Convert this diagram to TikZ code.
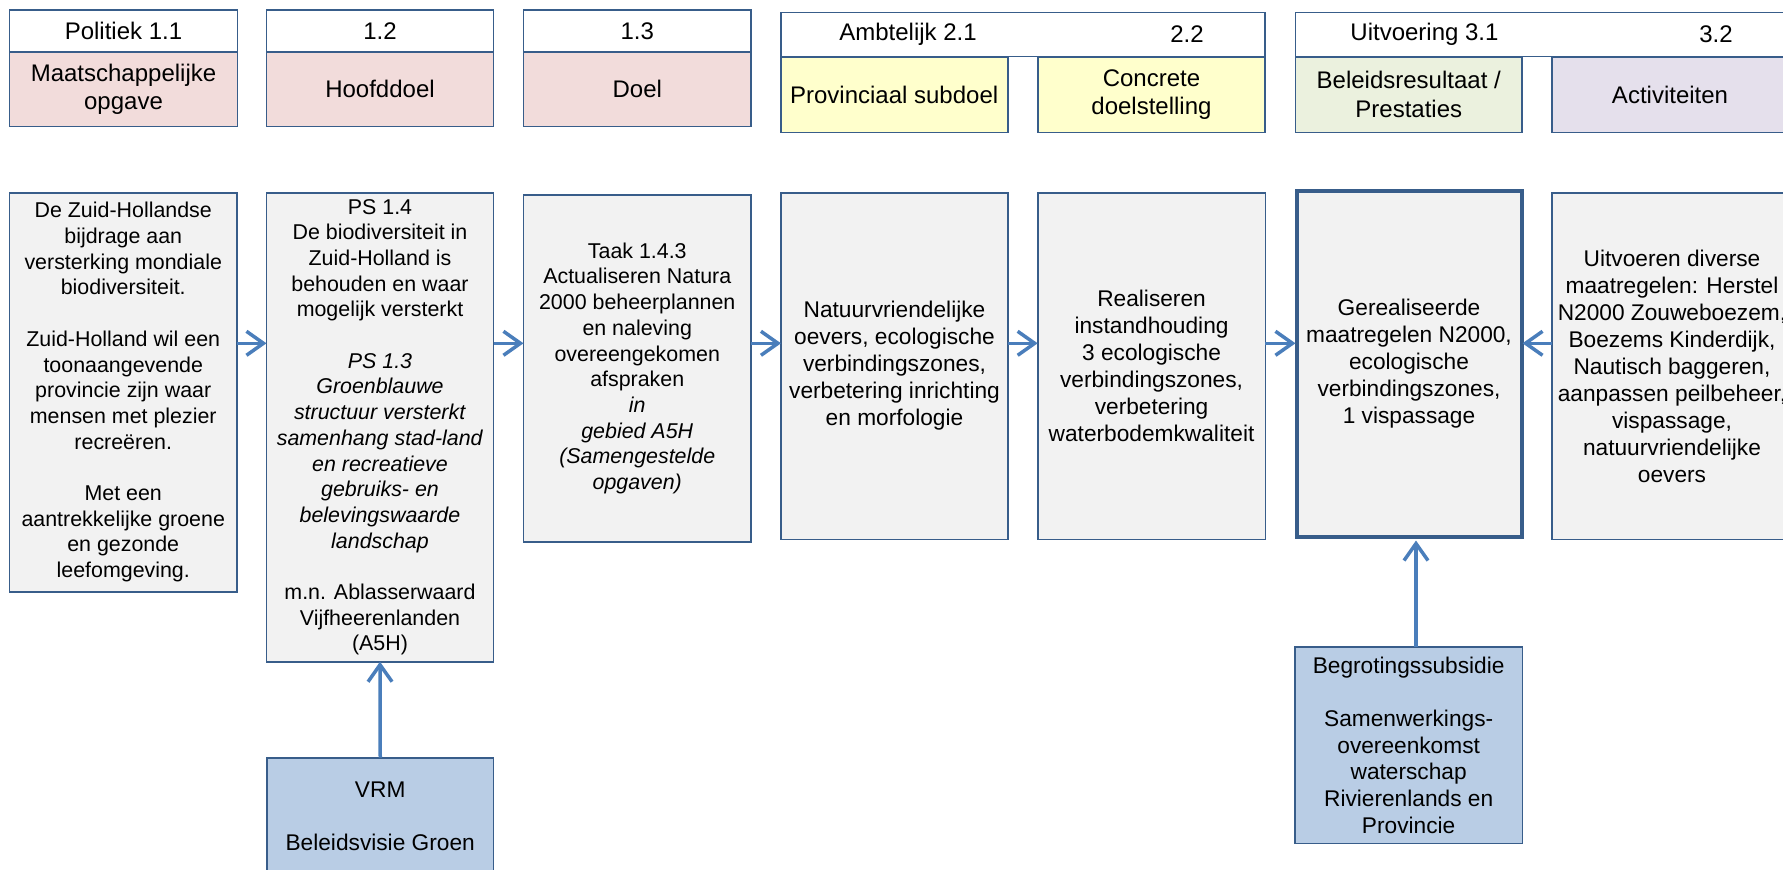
\documentclass[tikz,border=0pt]{standalone}
\usepackage{fontspec}
\setmainfont{Liberation Sans}
\usetikzlibrary{arrows.meta}
\definecolor{bord}{HTML}{385D8A}
\definecolor{arr}{HTML}{4A7EBB}
\definecolor{pinkf}{HTML}{F2DCDB}
\definecolor{yelf}{HTML}{FFFFCC}
\definecolor{grnf}{HTML}{EBF1DE}
\definecolor{lavf}{HTML}{E5E0EC}
\definecolor{grayf}{HTML}{F2F2F2}
\definecolor{bluef}{HTML}{B9CDE5}
\newcommand\txtH{\fontsize{24}{28.5}\selectfont}
\newcommand\txtL{\fontsize{22.7}{27}\selectfont}
\newcommand\txtS{\fontsize{21.4}{25.7}\selectfont}
\newcommand\txtB{\fontsize{22.7}{26.7}\selectfont}
\begin{document}
\begin{tikzpicture}[x=1pt,y=-1pt,
  bx/.style={draw=bord, line width=1.6pt, rectangle, anchor=north west,
    inner sep=2pt, outer sep=0pt, align=center},
  hdr/.style={bx, fill=white, font=\txtH},
  cat/.style={bx, font=\txtH},
  low/.style={bx, fill=grayf, font=\txtL},
  lbl/.style={inner sep=0pt, font=\txtH},
  arrw/.style={draw=arr, line width=3.5pt, -{Straight Barb[length=17pt,width=24pt]}}]
\useasboundingbox (0,0) rectangle (1783,870);
\clip (0,0) rectangle (1783,870);
\fill[white] (0,0) rectangle (1783,870);

% header row, political level
\node[hdr, minimum width=228pt, minimum height=42pt] (h11) at (9.5,10) {Politiek 1.1};
\node[cat, fill=pinkf, minimum width=228pt, minimum height=74.5pt] (c11) at (9.5,52) {Maatschappelijke\\opgave};
\node[hdr, minimum width=227pt, minimum height=42pt] (h12) at (266.5,10) {1.2};
\node[cat, fill=pinkf, minimum width=227pt, minimum height=74.5pt] (c12) at (266.5,52) {Hoofddoel};
\node[hdr, minimum width=227.5pt, minimum height=42pt] (h13) at (523.5,10) {1.3};
\node[cat, fill=pinkf, minimum width=227.5pt, minimum height=74.5pt] (c13) at (523.5,52) {Doel};

% ambtelijk
\node[hdr, minimum width=484.5pt, minimum height=44.3pt] (h2) at (780.7,12.3) {};
\node[lbl] (t21) at (908,34.5) {Ambtelijk 2.1};
\node[lbl] (t22) at (1187,34.5) {2.2};
\node[cat, fill=yelf, minimum width=227pt, minimum height=75.6pt] (c21) at (780.7,56.7) {Provinciaal subdoel};
\node[cat, fill=yelf, minimum width=227.5pt, minimum height=75.6pt] (c22) at (1037.7,56.7) {Concrete\\doelstelling};

% uitvoering
\node[hdr, minimum width=520pt, minimum height=44.3pt] (h3) at (1295.5,12.3) {};
\node[lbl] (t31) at (1424.5,34.5) {Uitvoering 3.1};
\node[lbl] (t32) at (1716,34.5) {3.2};
\node[cat, fill=grnf, minimum width=226.5pt, minimum height=75.6pt] (c31) at (1295.5,56.7) {Beleidsresultaat /\\Prestaties};
\node[cat, fill=lavf, minimum width=236pt, minimum height=75.6pt] (c32) at (1552,56.7) {Activiteiten};

% lower row
\node[low, font=\txtS, minimum width=227.5pt, minimum height=399pt] (A) at (9.5,192.7)
 {De Zuid-Hollandse\\bijdrage aan\\versterking mondiale\\biodiversiteit.\\[25.7pt]Zuid-Holland wil een\\toonaangevende\\provincie zijn waar\\mensen met plezier\\recreëren.\\[25.7pt]Met een\\aantrekkelijke groene\\en gezonde\\leefomgeving.};
\node[low, font=\txtS, minimum width=227pt, minimum height=469pt] (B) at (266.5,192.7)
 {PS 1.4\\De biodiversiteit in\\Zuid-Holland is\\behouden en waar\\mogelijk versterkt\\[25.7pt]\textit{PS 1.3}\\\textit{Groenblauwe}\\\textit{structuur versterkt}\\\textit{samenhang stad-land}\\\textit{en recreatieve}\\\textit{gebruiks- en}\\\textit{belevingswaarde}\\\textit{landschap}\\[25.7pt]m.n. Ablasserwaard\\Vijfheerenlanden\\(A5H)};
\node[low, font=\txtS, minimum width=227.5pt, minimum height=346.7pt] (C) at (523.5,195)
 {Taak 1.4.3\\Actualiseren Natura\\2000 beheerplannen\\en naleving\\overeengekomen\\afspraken\\\textit{in}\\\textit{gebied A5H}\\\textit{(Samengestelde}\\\textit{opgaven)}};
\node[low, minimum width=227pt, minimum height=346.6pt] (D) at (781,192.7)
 {Natuurvriendelijke\\oevers, ecologische\\verbindingszones,\\verbetering inrichting\\en morfologie};
\node[low, minimum width=227.7pt, minimum height=346.6pt] (E) at (1037.7,192.7)
 {Realiseren\\instandhouding\\3 ecologische\\verbindingszones,\\verbetering\\waterbodemkwaliteit};
\node[low, line width=4pt, minimum width=225pt, minimum height=345.5pt] (F) at (1296.5,191)
 {Gerealiseerde\\maatregelen N2000,\\ecologische\\verbindingszones,\\1 vispassage};
\node[low, minimum width=240pt, minimum height=346.6pt] (G) at (1552,192.7)
 {Uitvoeren diverse\\maatregelen: Herstel\\N2000 Zouweboezem,\\Boezems Kinderdijk,\\Nautisch baggeren,\\aanpassen peilbeheer,\\vispassage,\\natuurvriendelijke\\oevers};

% sources
\node[bx, fill=bluef, minimum width=226.5pt, minimum height=200pt] (VRM) at (267,757.7) {};
\node[inner sep=0pt, align=center, font=\fontsize{22.7}{26.3}\selectfont] (VRMt) at (380.2,816.5)
 {VRM\\[26.3pt]Beleidsvisie Groen};
\node[bx, fill=bluef, font=\txtB, minimum width=227.3pt, minimum height=196.6pt] (Beg) at (1295,646.7)
 {Begrotingssubsidie\\[26.7pt]Samenwerkings-\\overeenkomst\\waterschap\\Rivierenlands en\\Provincie};

% connectors
\coordinate (ay) at (0,343.3);
\coordinate (bxc) at (1416,0);
\draw[arrw] (A.east |- ay) -- (B.west |- ay);
\draw[arrw] (B.east |- ay) -- (C.west |- ay);
\draw[arrw] (C.east |- ay) -- (D.west |- ay);
\draw[arrw] (D.east |- ay) -- (E.west |- ay);
\draw[arrw] (E.east |- ay) -- ([xshift=-1pt]F.west |- ay);
\draw[arrw] (G.west |- ay) -- ([xshift=1pt]F.east |- ay);
\draw[arrw] (VRM.north) -- (B.south);
\draw[arrw] (Beg.north -| bxc) -- ([yshift=-4pt]F.south -| bxc);
\end{tikzpicture}
\end{document}
